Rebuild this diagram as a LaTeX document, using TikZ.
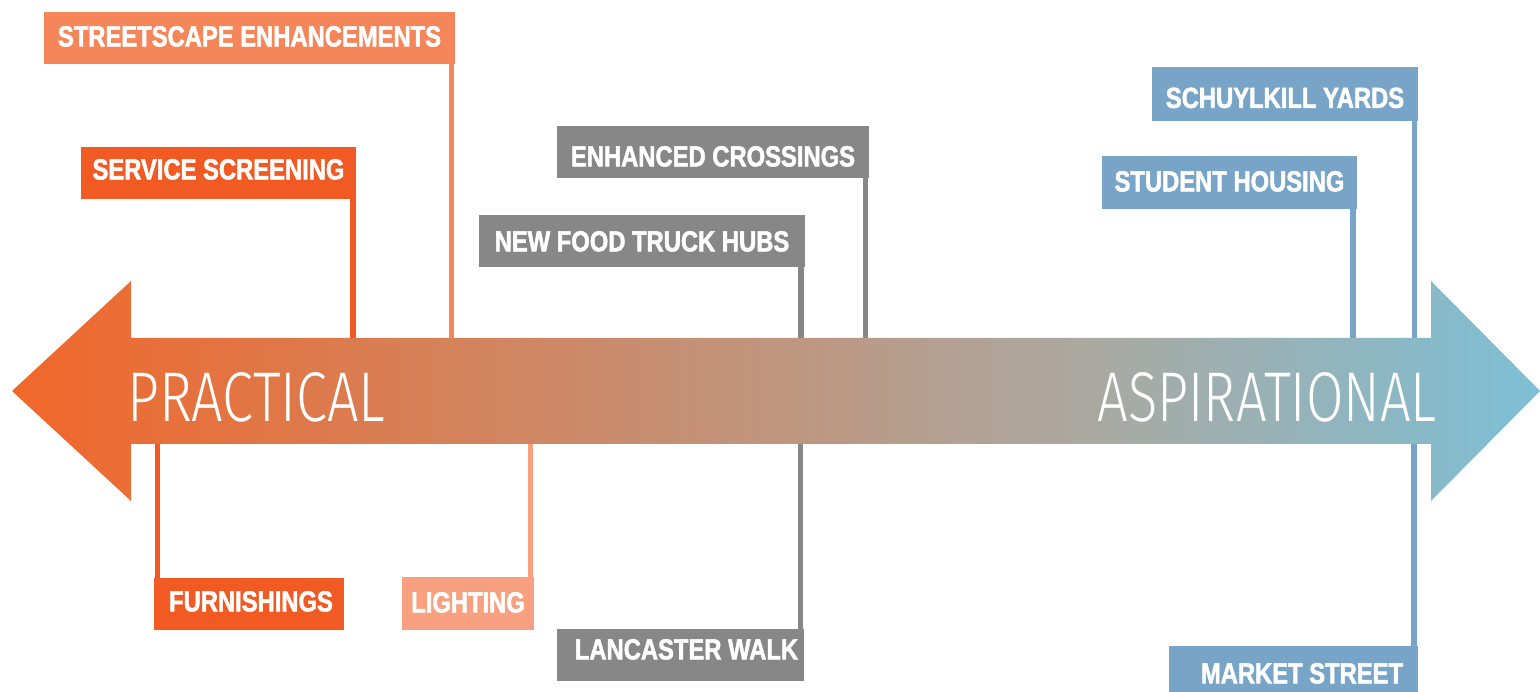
\documentclass[tikz,border=0pt]{standalone}
\usepackage{fontspec}
\usepackage{graphicx}
\newfontfamily\tagfont{Liberation Sans}[FakeStretch=0.82,FakeBold=1.8]
\newfontfamily\bigfont{Fira Sans Light}
\definecolor{arrOr}{RGB}{241,103,42}
\definecolor{arrGr}{RGB}{171,168,160}
\definecolor{arrBl}{RGB}{125,191,213}
\definecolor{cSalmon}{RGB}{244,134,90}
\definecolor{cOrange}{RGB}{241,90,34}
\definecolor{cLight}{RGB}{247,161,128}
\definecolor{cGrey}{RGB}{135,135,135}
\definecolor{cBlue}{RGB}{120,164,200}
\pgfdeclarehorizontalshading{spectrum}{100bp}{color(0bp)=(arrOr); color(25bp)=(arrOr); color(59.9bp)=(arrGr); color(75bp)=(arrBl); color(100bp)=(arrBl)}
\newcommand\shiftlab[3]{\raisebox{#1}{\hspace*{#2}#3}}
\tikzset{
  tagbox/.style={fill=#1, text=white, inner sep=0pt, minimum height=52pt,
    font=\tagfont\bfseries\fontsize{29}{29}\selectfont,
    text height=20.8pt, text depth=0pt},
  conn/.style={draw=#1, line width=5.5pt},
  bigtext/.style={text=white, inner sep=0pt, font=\bigfont\fontsize{68}{68}\selectfont}
}
\begin{document}
\begin{tikzpicture}[x=1pt,y=-1pt]
\useasboundingbox (0,0) rectangle (1540,692);
% arrow
\path[shading=spectrum] (12,391) -- (131,281) -- (131,338) -- (1431,338) -- (1431,281)
  -- (1540,391) -- (1431,501) -- (1431,444) -- (131,444) -- (131,501) -- cycle;
\coordinate (shaftT) at (0,338);
\coordinate (shaftB) at (0,444);
\node[bigtext, anchor=base west] (prac) at (127,421) {\resizebox{258pt}{49pt}{PRACTICAL}};
\node[bigtext, anchor=base east] (asp) at (1437,421) {\resizebox{339pt}{49pt}{ASPIRATIONAL}};
% top boxes
\node[tagbox=cSalmon, minimum width=411pt] (se) at (249.5,38) {\shiftlab{2pt}{0pt}{STREETSCAPE ENHANCEMENTS}};
\node[tagbox=cOrange, minimum width=275pt] (ss) at (218.5,173) {\shiftlab{4pt}{0pt}{SERVICE SCREENING}};
\node[tagbox=cGrey, minimum width=312pt] (ec) at (713,152) {\shiftlab{-4pt}{0pt}{ENHANCED CROSSINGS}};
\node[tagbox=cGrey, minimum width=326pt] (ft) at (642,241) {NEW FOOD TRUCK HUBS};
\node[tagbox=cBlue, minimum width=266pt, minimum height=54pt] (sy) at (1285,94) {\shiftlab{-3.5pt}{0pt}{SCHUYLKILL YARDS}};
\node[tagbox=cBlue, minimum width=255pt, minimum height=53pt] (sh) at (1229.5,182.5) {\shiftlab{1.5pt}{0pt}{STUDENT HOUSING}};
% bottom boxes
\node[tagbox=cOrange, minimum width=190pt] (fu) at (249,604) {\shiftlab{3pt}{4pt}{FURNISHINGS}};
\node[tagbox=cLight, minimum width=132pt, minimum height=53pt] (li) at (468,603.5) {\shiftlab{1.5pt}{0pt}{LIGHTING}};
\node[tagbox=cGrey, minimum width=247pt] (lw) at (680.5,655) {\shiftlab{6pt}{12pt}{LANCASTER WALK}};
\node[tagbox=cBlue, minimum width=249pt] (ms) at (1293.5,672) {\shiftlab{-1pt}{17pt}{MARKET STREET}};
% connectors
\draw[conn=cSalmon] (se.south east) ++(-3.5,0) coordinate (t1) -- (t1 |- shaftT);
\draw[conn=cOrange] (ss.south east) ++(-3,0) coordinate (t2) -- (t2 |- shaftT);
\draw[conn=cGrey] (ec.south east) ++(-3.5,0) coordinate (t3) -- (t3 |- shaftT);
\draw[conn=cGrey] (ft.south east) ++(-4,0) coordinate (t4) -- (t4 |- shaftT);
\draw[conn=cBlue] (sy.south east) ++(-3.5,0) coordinate (t5) -- (t5 |- shaftT);
\draw[conn=cBlue] (sh.south east) ++(-4,0) coordinate (t6) -- (t6 |- shaftT);
\draw[conn=cOrange] (fu.north west) ++(3.5,0) coordinate (b1) -- (b1 |- shaftB);
\draw[conn=cLight] (li.north east) ++(-3.5,0) coordinate (b2) -- (b2 |- shaftB);
\draw[conn=cGrey] (lw.north east) ++(-3.5,0) coordinate (b3) -- (b3 |- shaftB);
\draw[conn=cBlue] (ms.north east) ++(-4,0) coordinate (b4) -- (b4 |- shaftB);
\end{tikzpicture}
\end{document}
